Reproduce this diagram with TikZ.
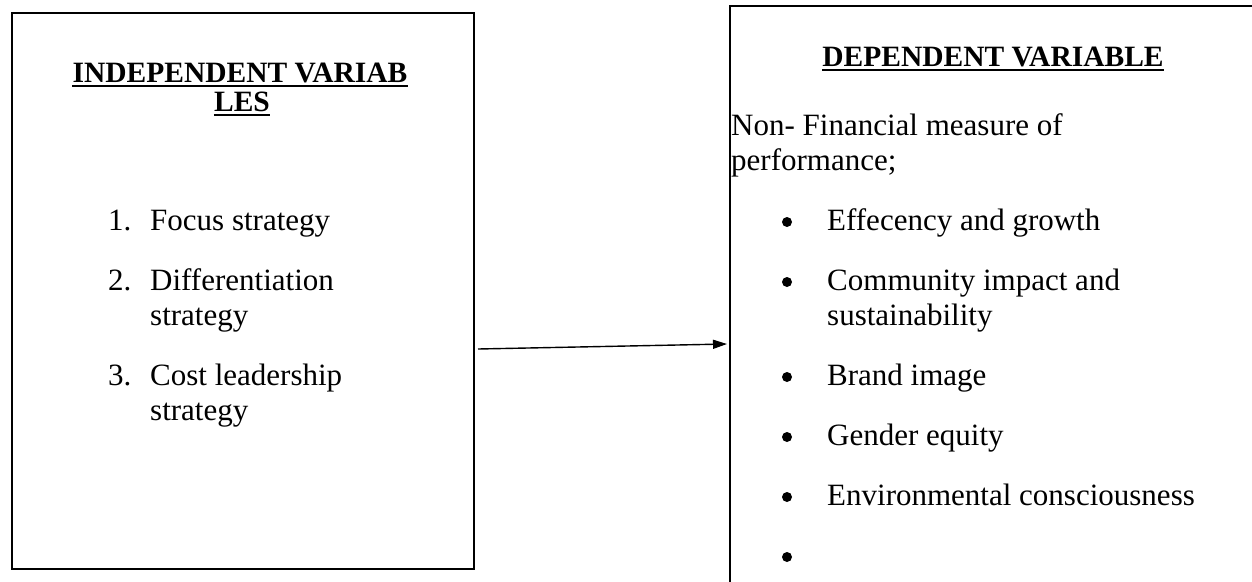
\documentclass[tikz,border=0pt]{standalone}
\usepackage{fontspec}
\setmainfont{Liberation Serif}
\usetikzlibrary{arrows.meta}
\begin{document}
\begin{tikzpicture}[x=1pt,y=-1pt,
  body/.style={font=\fontsize{31}{36}\selectfont, inner sep=0pt, anchor=base west},
  head/.style={font=\bfseries\fontsize{29.5}{34}\selectfont, inner sep=0pt, anchor=base},
  box/.style={draw, line width=2.4pt, inner sep=0pt},
  bul/.style={circle, fill=black, inner sep=0pt, minimum size=10pt},
  ul/.style={line width=2.4pt},
  conn/.style={line width=1.4pt, -{Triangle[length=14pt,width=9pt]}}]
\useasboundingbox (0,0) rectangle (1252,581);
\clip (0,0) rectangle (1252,581);
% boxes
\node[box, minimum width=462pt, minimum height=556pt, anchor=north west] (ivbox) at (11,12) {};
\node[box, minimum width=600pt, minimum height=650pt, anchor=north west] (dvbox) at (729,5) {};
% left heading
\node[head] (ivh1) at (240,82) {INDEPENDENT VARIAB};
\node[head] (ivh2) at (242,111) {LES};
\draw[ul] ([yshift=-4pt]ivh1.base west) -- ([yshift=-4pt]ivh1.base east);
\draw[ul] ([yshift=-4pt]ivh2.base west) -- ([yshift=-4pt]ivh2.base east);
% left list
\node[body] (n1) at (108,230) {1.};
\node[body] (t1) at (150,230) {Focus strategy};
\node[body] (n2) at (108,290) {2.};
\node[body] (t2a) at (150,290) {Differentiation};
\node[body] (t2b) at (150,325) {strategy};
\node[body] (n3) at (108,385) {3.};
\node[body] (t3a) at (150,385) {Cost leadership};
\node[body] (t3b) at (150,420) {strategy};
% right heading
\node[head] (dvh) at (993,66) {DEPENDENT VARIABLE};
\draw[ul] ([yshift=-4pt]dvh.base west) -- ([yshift=-4pt]dvh.base east);
\node[body] (p1) at (731,135) {Non- Financial measure of};
\node[body] (p2) at (731,170) {performance;};
% bullets
\node[bul] (b1) at (787,222) {};
\node[body] (r1) at (827,230) {Effecency and growth};
\node[bul] (b2) at (787,282) {};
\node[body] (r2a) at (827,290) {Community impact and};
\node[body] (r2b) at (827,325) {sustainability};
\node[bul] (b3) at (787,377) {};
\node[body] (r3) at (827,385) {Brand image};
\node[bul] (b4) at (787,437) {};
\node[body] (r4) at (827,445) {Gender equity};
\node[bul] (b5) at (787,497) {};
\node[body] (r5) at (827,505) {Environmental consciousness};
\node[bul] (b6) at (787,557) {};
% arrow
\coordinate (a1) at (478,349);
\coordinate (a2) at (727,344);
\draw[conn] (a1) -- (a2);
\end{tikzpicture}
\end{document}
